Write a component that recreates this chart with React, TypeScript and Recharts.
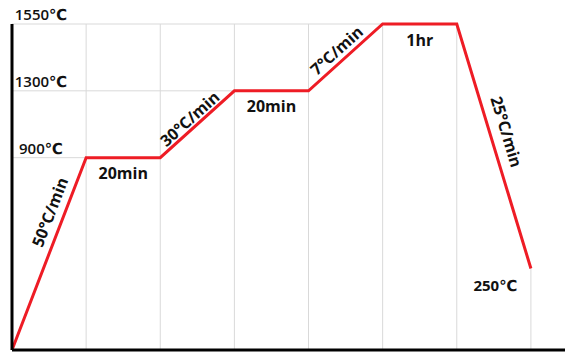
import React from 'react';
import { LineChart, Line, XAxis, YAxis, ReferenceLine } from 'recharts';

// firing profile: one point per stage boundary
const STEPS = [0, 1, 2, 3, 4, 5, 6, 7];
const TEMPS = [0, 900, 900, 1300, 1300, 1550, 1550, 250];
const SEGMENT_LABELS = ['50°C/min', '20min', '30°C/min', '20min', '7°C/min', '1hr', '25°C/min'];
const TEMP_TICKS = [900, 1300, 1550];
const END_LABEL = '250℃';

// the temperature axis is drawn schematically, not to scale
const AXIS_TEMPS = [0, 250, 900, 1300, 1550];
const AXIS_FRACTIONS = [0, 0.25, 0.59, 0.795, 1];

const data = STEPS.map((step, i) => ({ step, temp: TEMPS[i] }));

// where each segment's label sits: t = fraction along the segment, d = px off the line
const LABEL_PLACEMENT = [
  { t: 0.69, d: 14 },
  { t: 0.5, d: -16 },
  { t: 0.48, d: 9 },
  { t: 0.5, d: -16 },
  { t: 0.48, d: 11 },
  { t: 0.5, d: -16.5 },
  { t: 0.46, d: 16 },
];
const END_OFFSET = { dx: -35.5, dy: 17.5 };

const RED = '#ee1c25';
const GRID = '#d9d9d9';
const FONT = "'Open Sans', 'DejaVu Sans', sans-serif";

function schematicScale(initialRange: number[] = [0, 1]): any {
  let range = initialRange.slice();
  let domain = [AXIS_TEMPS[0], AXIS_TEMPS[AXIS_TEMPS.length - 1]];
  const scale: any = (v: number) => {
    let i = 1;
    while (i < AXIS_TEMPS.length - 1 && v > AXIS_TEMPS[i]) i++;
    const t0 = AXIS_TEMPS[i - 1];
    const t1 = AXIS_TEMPS[i];
    const f = AXIS_FRACTIONS[i - 1] + ((v - t0) / (t1 - t0)) * (AXIS_FRACTIONS[i] - AXIS_FRACTIONS[i - 1]);
    return range[0] + f * (range[1] - range[0]);
  };
  scale.domain = (d?: number[]) => {
    if (d === undefined) return domain.slice();
    domain = d.slice();
    return scale;
  };
  scale.range = (r?: number[]) => {
    if (r === undefined) return range.slice();
    range = r.slice();
    return scale;
  };
  scale.copy = () => schematicScale(range).domain(domain);
  scale.ticks = () => AXIS_TEMPS.slice();
  scale.tickFormat = () => (v: number) => String(v);
  return scale;
}

const renderAnnotation = (props: any) => {
  const { index, cx, cy, points } = props;
  const key = `ann-${index}`;
  if (index === STEPS.length - 1) {
    return (
      <text key={key} x={cx + END_OFFSET.dx} y={cy + END_OFFSET.dy} dy="0.35em" textAnchor="middle"
        fontFamily={FONT} fontWeight={700} fontSize={15} fill="#111">
        {END_LABEL}
      </text>
    );
  }
  const next = points && points[index + 1];
  if (!next || !SEGMENT_LABELS[index]) return <g key={key} />;
  const dx = next.x - cx;
  const dy = next.y - cy;
  const len = Math.hypot(dx, dy);
  const ux = dx / len;
  const uy = dy / len;
  const { t, d } = LABEL_PLACEMENT[index];
  const x = cx + dx * t + uy * d;
  const y = cy + dy * t - ux * d;
  const angle = (Math.atan2(dy, dx) * 180) / Math.PI;
  return (
    <text key={key} x={x} y={y} dy="0.35em" textAnchor="middle" transform={`rotate(${angle} ${x} ${y})`}
      fontFamily={FONT} fontWeight={700} fontSize={16} fill="#111">
      {SEGMENT_LABELS[index]}
    </text>
  );
};

const renderTempTick = (props: any) => {
  const { y, payload } = props;
  return (
    <text x={41} y={y - 9} dy="0.35em" textAnchor="middle" fontFamily={FONT} fontWeight={600} fontSize={15} fill="#111">
      {`${payload.value}℃`}
    </text>
  );
};

const App: React.FC = () => {
  const lastStep = STEPS[STEPS.length - 1];
  return (
    <div style={{ position: 'absolute', left: 0, top: 0, width: 565, height: 352, background: '#fff' }}>
      <LineChart width={565} height={352} data={data} margin={{ top: 24, right: 0, bottom: 0, left: 0 }}>
        <XAxis
          type="number"
          dataKey="step"
          domain={[0, 7.46]}
          ticks={STEPS}
          tick={false}
          tickLine={false}
          height={2}
          axisLine={{ stroke: '#000', strokeWidth: 3 }}
        />
        <YAxis
          type="number"
          dataKey="temp"
          scale={schematicScale()}
          domain={[0, 1550]}
          ticks={TEMP_TICKS}
          interval={0}
          tick={renderTempTick}
          tickLine={false}
          width={12}
          axisLine={{ stroke: '#000', strokeWidth: 3 }}
        />
        {STEPS.slice(1, -1).map((s) => (
          <ReferenceLine key={`v-${s}`} x={s} stroke={GRID} strokeWidth={1} />
        ))}
        <ReferenceLine
          segment={[{ x: lastStep, y: 0 }, { x: lastStep, y: TEMPS[TEMPS.length - 1] }]}
          stroke={GRID}
          strokeWidth={1}
        />
        {TEMP_TICKS.map((temp) => (
          <ReferenceLine
            key={`h-${temp}`}
            segment={[{ x: 0, y: temp }, { x: STEPS[TEMPS.indexOf(temp)], y: temp }]}
            stroke={GRID}
            strokeWidth={1}
          />
        ))}
        <Line
          type="linear"
          dataKey="temp"
          stroke={RED}
          strokeWidth={3}
          dot={renderAnnotation}
          activeDot={false}
          isAnimationActive={false}
        />
      </LineChart>
    </div>
  );
};

export default App;
